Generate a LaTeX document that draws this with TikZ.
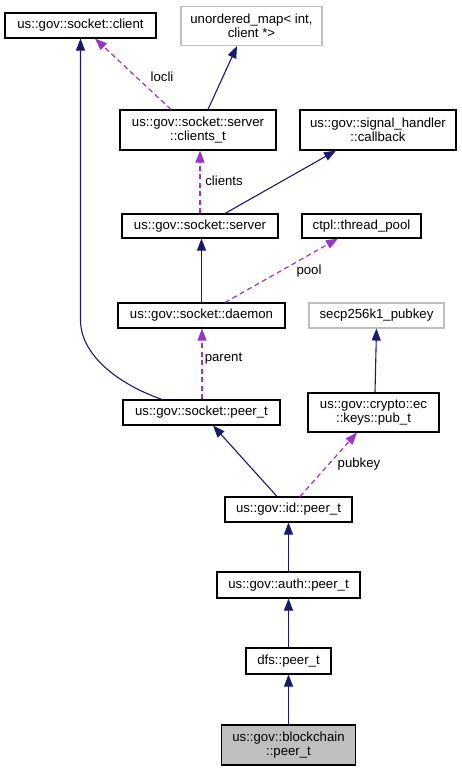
\documentclass[tikz,border=0pt]{standalone}
\usepackage{fontspec}
\setmainfont{Liberation Sans}
\usetikzlibrary{arrows.meta}
\definecolor{navy}{HTML}{191970}
\definecolor{purp}{HTML}{9A32CD}
\definecolor{lgray}{HTML}{BFBFBF}
\begin{document}
\begin{tikzpicture}[x=1pt,y=-1pt,
  box/.style={draw=black,line width=1.1pt,inner sep=0pt,align=center,fill=white,
    font=\fontsize{13.2}{14.3}\selectfont},
  gbox/.style={box,draw=lgray},
  lbl/.style={inner sep=0pt,font=\fontsize{13.2}{14.3}\selectfont},
  inh/.style={draw=navy,line width=1.1pt,-{Triangle[length=12pt,width=9pt,fill=navy]}},
  use/.style={draw=purp,line width=1.2pt,dash pattern=on 5pt off 3.5pt,-{Triangle[length=12pt,width=9pt,fill=purp]}}]
\useasboundingbox (0,0) rectangle (461,771);
\node[box,minimum width=151pt,minimum height=25pt] (client) at (80.5,25.5) {us::gov::socket::client};
\node[gbox,minimum width=141pt,minimum height=39pt] (umap) at (251.5,26) {unordered\_map< int,\\client *>};
\node[box,minimum width=156pt,minimum height=40pt] (clients) at (198,130) {us::gov::socket::server\\::clients\_t};
\node[box,minimum width=156pt,minimum height=40pt] (callback) at (378,130) {us::gov::signal\_handler\\::callback};
\node[box,minimum width=156pt,minimum height=24pt] (server) at (200,226) {us::gov::socket::server};
\node[box,minimum width=119pt,minimum height=24pt] (pool) at (361.5,226) {ctpl::thread\_pool};
\node[box,minimum width=167pt,minimum height=25pt] (daemon) at (201.5,315.5) {us::gov::socket::daemon};
\node[gbox,minimum width=135pt,minimum height=25pt] (secp) at (376.5,315.5) {secp256k1\_pubkey};
\node[box,minimum width=157pt,minimum height=25pt] (speer) at (201.5,412.5) {us::gov::socket::peer\_t};
\node[box,minimum width=131pt,minimum height=39pt] (pubt) at (373.5,412.5) {us::gov::crypto::ec\\::keys::pub\_t};
\node[box,minimum width=127pt,minimum height=25pt] (idpeer) at (288.5,509.5) {us::gov::id::peer\_t};
\node[box,minimum width=143pt,minimum height=26pt] (auth) at (288.5,585) {us::gov::auth::peer\_t};
\node[box,minimum width=85pt,minimum height=26pt] (dfs) at (288.5,661) {dfs::peer\_t};
\node[box,fill=lgray,minimum width=134pt,minimum height=40pt] (bc) at (288.5,745) {us::gov::blockchain\\::peer\_t};
% labels
\node[lbl] (llocli) at (162,77) {locli};
\node[lbl] (lclients) at (224,181) {clients};
\node[lbl] (lpool) at (309,271) {pool};
\node[lbl] (lparent) at (223.5,359) {parent};
\node[lbl] (lpubkey) at (359,464) {pubkey};
% edges
\draw[inh] ([xshift=-39.5pt]speer.north) .. controls (118,384) and (80.5,355) .. (80.5,320) -- (client.south);
\draw[use] ([xshift=-27pt]clients.north) -- ([xshift=14.5pt]client.south);
\draw[inh] ([xshift=10pt]clients.north) -- ([xshift=-14.5pt]umap.south);
\draw[use] (server.north) -- (server.north |- clients.south);
\draw[inh] ([xshift=25pt]server.north) -- ([xshift=-42pt]callback.south);
\draw[inh] (daemon.north) -- (daemon.north |- server.south);
\draw[use] ([xshift=23.5pt]daemon.north) -- ([xshift=-23.5pt]pool.south);
\draw[use] ([xshift=0.5pt]speer.north) -- ([xshift=0.5pt]daemon.south);
\draw[inh] ([xshift=1.5pt]pubt.north) -- (secp.south);
\draw[inh] ([xshift=-11.5pt]idpeer.north) -- ([xshift=11.5pt]speer.south);
\draw[use] ([xshift=11.5pt]idpeer.north) -- ([xshift=-16.5pt]pubt.south);
\draw[inh] (auth.north) -- (idpeer.south);
\draw[inh] (dfs.north) -- (auth.south);
\draw[inh] (bc.north) -- (dfs.south);
\end{tikzpicture}
\end{document}
